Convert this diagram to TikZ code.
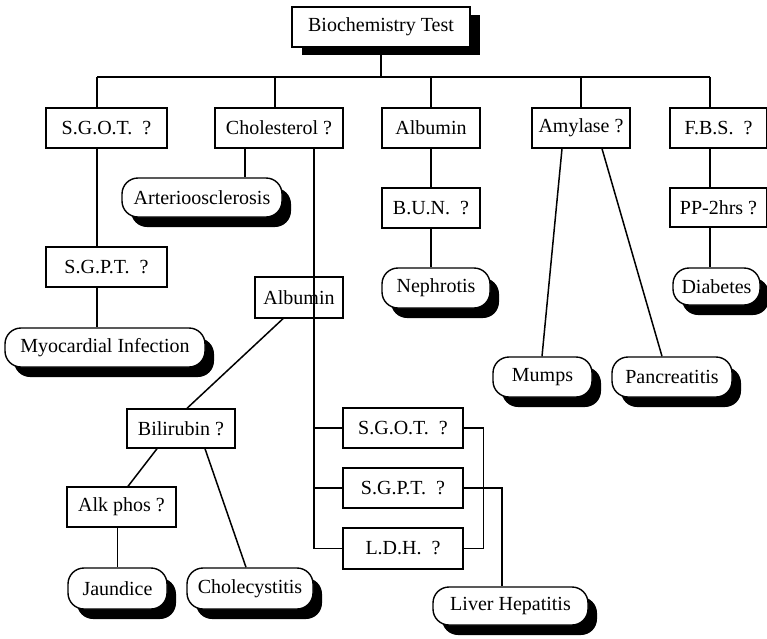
\documentclass[tikz,border=0pt]{standalone}
\usepackage{fontspec}
\setmainfont{Liberation Serif}
\usetikzlibrary{shadows}
\begin{document}
\begin{tikzpicture}[x=1pt,y=-1pt,
  every node/.style={font=\fontsize{20}{24}\selectfont, inner sep=0pt},
  qbox/.style={draw, fill=white, line width=1.4pt},
  pill/.style={draw, fill=white, line width=1.4pt, rounded corners=16pt,
    drop shadow={shadow xshift=9pt, shadow yshift=-10pt, fill=black, opacity=1}},
  titlebox/.style={draw, fill=white, line width=1.4pt,
    drop shadow={shadow xshift=10pt, shadow yshift=-8pt, fill=black, opacity=1}},
  link/.style={draw, line width=1.5pt}
]
\useasboundingbox (0,0) rectangle (767,638);

% root
\node[titlebox, minimum width=178pt, minimum height=40pt] (bio) at (381,27) {Biochemistry Test};

% first level of tests
\node[qbox, minimum width=121pt, minimum height=40pt] (sgot1) at (106.5,128) {S.G.O.T.~~?};
\node[qbox, minimum width=128pt, minimum height=40pt] (chol) at (279,128) {Cholesterol ?};
\node[qbox, minimum width=98pt, minimum height=40pt] (alb1) at (431,128) {Albumin};
\node[qbox, minimum width=98pt, minimum height=40pt] (amy) at (581,128) {Amylase ?};
\node[qbox, minimum width=97pt, minimum height=40pt] (fbs) at (718.5,128) {F.B.S.~~?};

% further tests
\node[qbox, minimum width=121pt, minimum height=40pt] (sgpt1) at (106.5,267) {S.G.P.T.~~?};
\node[qbox, minimum width=88pt, minimum height=41pt] (alb2) at (299,297.5) {Albumin};
\node[qbox, minimum width=98pt, minimum height=40pt] (bun) at (431,208) {B.U.N.~~?};
\node[qbox, minimum width=97pt, minimum height=39pt] (pp) at (718.5,207.5) {PP-2hrs ?};
\node[qbox, minimum width=108pt, minimum height=39pt] (bili) at (181,428.5) {Bilirubin ?};
\node[qbox, minimum width=109pt, minimum height=40pt] (alk) at (121.5,507) {Alk phos ?};
\node[qbox, minimum width=120pt, minimum height=40pt] (sgot2) at (403,428) {S.G.O.T.~~?};
\node[qbox, minimum width=120pt, minimum height=40pt] (sgpt2) at (403,488) {S.G.P.T.~~?};
\node[qbox, minimum width=120pt, minimum height=41pt] (ldh) at (403,548.5) {L.D.H.~~?};

% diagnoses
\node[pill, minimum width=160pt, minimum height=39pt] (arterio) at (202,197.5) {Arterioosclerosis};
\node[pill, minimum width=200pt, minimum height=39pt] (myo) at (105,347.5) {Myocardial Infection};
\node[pill, minimum width=108pt, minimum height=40pt] (neph) at (436,288) {Nephrotis};
\node[pill, minimum width=87pt, minimum height=37pt] (diab) at (716.5,286.5) {Diabetes};
\node[pill, minimum width=99pt, minimum height=40pt] (mumps) at (542.5,377) {Mumps};
\node[pill, minimum width=120pt, minimum height=40pt] (panc) at (672,377) {Pancreatitis};
\node[pill, minimum width=99pt, minimum height=41pt] (jaun) at (117.5,588.5) {Jaundice};
\node[pill, minimum width=126pt, minimum height=41pt] (chole) at (250,588.5) {Cholecystitis};
\node[pill, minimum width=155pt, minimum height=38pt] (liver) at (510.5,606) {Liver Hepatitis};

% bus under the root
\coordinate (busL) at (97,77);
\coordinate (busR) at (710,77);
\draw[link] (bio.south) -- (bio.south |- busL);
\draw[link] (busL) -- (busR);
\draw[link] (busL) -- (sgot1.north -| busL);
\draw[link] ([xshift=-4pt]chol.north) -- ([xshift=-4pt]chol.north |- busL);
\draw[link] (alb1.north) -- (alb1.north |- busL);
\draw[link] (amy.north) -- (amy.north |- busL);
\draw[link] (busR) -- (fbs.north -| busR);

% S.G.O.T. branch
\draw[link] (sgot1.south -| busL) -- (sgpt1.north -| busL);
\draw[link] (sgpt1.south -| busL) -- (myo.north -| busL);

% Cholesterol branch
\draw[link] ([xshift=-34pt]chol.south) -- ([xshift=43pt]arterio.north);
\coordinate (spine) at ([xshift=35pt]chol.south);
\draw[link] (spine) -- (spine |- ldh.west);
\draw[link] (spine |- sgot2.west) -- (sgot2.west);
\draw[link] (spine |- sgpt2.west) -- (sgpt2.west);
\draw[link] (spine |- ldh.west) -- (ldh.west);
\draw[link] ([xshift=-16pt]alb2.south) -- ([xshift=6pt]bili.north);
\draw[link] ([xshift=-24pt]bili.south) -- ([xshift=6.5pt]alk.north);
\draw[link] (jaun.north |- alk.south) -- (jaun.north);
\draw[link] ([xshift=24pt]bili.south) -- ([xshift=-4pt]chole.north);
\draw[link] (sgot2.east) -- ++(20,0) |- (ldh.east);
\draw[link] (sgpt2.east) -| ([xshift=-8.5pt]liver.north);

% Albumin branch
\draw[link] (alb1.south) -- (bun.north);
\draw[link] (bun.south) -- (bun.south |- neph.north);

% Amylase branch
\draw[link] ([xshift=-19pt]amy.south) -- ([xshift=-0.5pt]mumps.north);
\draw[link] ([xshift=21pt]amy.south) -- ([xshift=-10pt]panc.north);

% F.B.S. branch
\draw[link] (fbs.south -| busR) -- (pp.north -| busR);
\draw[link] (pp.south -| busR) -- (diab.north -| busR);
\end{tikzpicture}
\end{document}
